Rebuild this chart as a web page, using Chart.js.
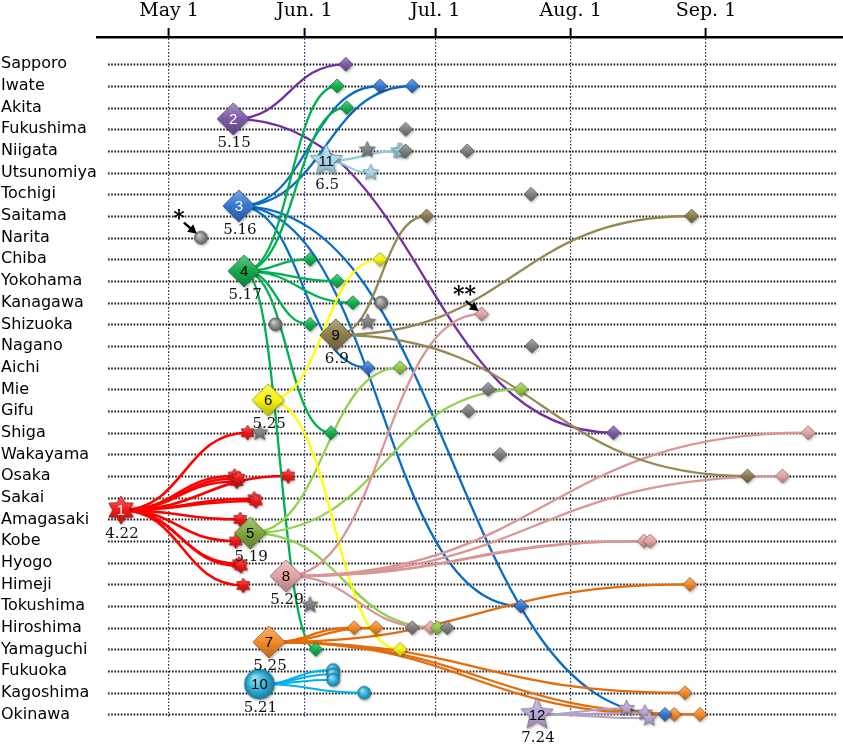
<!DOCTYPE html>
<html>
<head>
<meta charset="utf-8">
<script src="https://cdn.jsdelivr.net/npm/chart.js@4.4.1/dist/chart.umd.min.js"></script>
<style>
  html, body { margin: 0; padding: 0; background: #fff; }
  canvas { display: block; }
</style>
</head>
<body>
<canvas id="chart" width="843" height="746"></canvas>
<script>
const cities = ['Sapporo', 'Iwate', 'Akita', 'Fukushima', 'Niigata', 'Utsunomiya', 'Tochigi',
    'Saitama', 'Narita', 'Chiba', 'Yokohama', 'Kanagawa', 'Shizuoka', 'Nagano', 'Aichi', 'Mie',
    'Gifu', 'Shiga', 'Wakayama', 'Osaka', 'Sakai', 'Amagasaki', 'Kobe', 'Hyogo', 'Himeji',
    'Tokushima', 'Hiroshima', 'Yamaguchi', 'Fukuoka', 'Kagoshima', 'Okinawa'];

// x values are days after May 1
const monthTicks = [0, 31, 61, 92, 123];
const monthLabels = ['May 1', 'Jun. 1', 'Jul. 1', 'Aug. 1', 'Sep. 1'];

// cluster origins (row is fractional: nodes sit between rows)
const nodeIds = ['1', '2', '3', '4', '5', '6', '7', '8', '9', '10', '11', '12'];
const nodeDates = ['4.22', '5.15', '5.16', '5.17', '5.19', '5.25', '5.25', '5.29', '6.9', '5.21', '6.5', '7.24'];
const nodeDays = [-11.0, 14.7, 16.0, 17.2, 18.6, 22.7, 22.9, 26.8, 38.2, 20.7, 36.0, 84.3];
const nodeRows = [20.57, 2.52, 6.54, 9.54, 21.63, 15.49, 26.66, 23.61, 12.49, 28.6, 4.46, 30.0];

// linked cases of each cluster: [day, row]
const cases1 = [[18.0, 17], [15.0, 19.0], [15.5, 19.25], [15.9, 19.1], [27.3, 19], [19.5, 20.05], [19.9, 20.15],
    [16.3, 21], [15.3, 22], [16.0, 23.05], [16.5, 23.15], [17.0, 24.05]];
const cases2 = [[40.5, 0], [101.8, 17]];
const cases3 = [[48.3, 1], [55.7, 1], [45.5, 14], [80.6, 25], [113.6, 30]];
const cases4 = [[38.5, 1], [40.7, 2], [32.3, 9], [38.5, 10], [42.1, 11], [32.3, 12], [37.1, 17], [33.6, 27]];
const cases5 = [[52.9, 14], [80.6, 15], [61.5, 26]];
const cases6 = [[48.3, 9], [52.9, 27]];
const cases7 = [[42.4, 26], [47.4, 26], [119.3, 24], [118.2, 29], [115.7, 30], [121.6, 30]];
const cases8 = [[71.6, 11.52], [59.9, 26], [108.8, 22], [110.2, 22], [140.5, 19], [146.4, 17]];
const cases9 = [[59.0, 7], [119.7, 7], [132.5, 19]];
const cases10 = [[37.6, 27.95], [37.6, 28.15], [37.6, 28.4], [44.7, 29]];
const cases11 = [[52.6, 4], [53.2, 4], [46.2, 5]];
const cases12 = [[104.8, 29.72], [109.0, 29.93], [110.0, 30.18]];

// unlinked cases
const grayDiamonds = [[54.2, 3], [54.2, 4], [68.3, 4], [82.9, 6], [83.1, 13], [73.1, 15], [68.6, 16], [75.8, 18], [55.7, 26], [63.7, 26]];
const grayCircles = [[7.3, 8], [48.6, 11], [24.4, 12]];
const grayStars = [[45.4, 3.95], [45.5, 11.9], [20.8, 17], [32.3, 24.95]];

const allCases = [cases1, cases2, cases3, cases4, cases5, cases6, cases7, cases8, cases9, cases10, cases11, cases12];
const nodeFill = ['#f01818', '#7d5aa6', '#3576cf', '#14a84a', '#80a63c', '#f5f20f', '#f28a26', '#e4a3a3', '#8a7c4c', '#2aaed6', '#a6d8ea', '#b8a6d0'];
const caseFill = ['#f01818', '#7d5aa6', '#3576cf', '#14b04e', '#92c84a', '#f5f20f', '#f28a26', '#e4a3a3', '#8a7c4c', '#2aaed6', '#a6d8ea', '#b8a6d0'];
const lineColor = ['#ff0000', '#7030a0', '#0a6cc4', '#00b050', '#92d050', '#ffff00', '#e46c0a', '#d99694', '#948a54', '#00b0f0', '#93cddd', '#b3a2c7'];
const nodeShape = ['star6', 'diamond', 'diamond', 'diamond', 'diamond', 'diamond', 'diamond', 'diamond', 'diamond', 'circle', 'star5', 'star5'];
const numberColor = ['#fff', '#fff', '#fff', '#000', '#000', '#000', '#000', '#000', '#000', '#000', '#000', '#000'];

function shade(hex, amt) {
    const n = parseInt(hex.slice(1), 16);
    const t = amt < 0 ? 0 : 255, p = Math.abs(amt);
    const mix = v => Math.round((t - v) * p + v);
    return `rgb(${mix(n >> 16)},${mix((n >> 8) & 255)},${mix(n & 255)})`;
}

// small canvas images used as point styles
function marker(shape, color, r) {
    const pad = 4;
    const size = Math.ceil(2 * r + 2 * pad);
    const c = document.createElement('canvas');
    c.width = c.height = size;
    const g = c.getContext('2d');
    const m = size / 2;
    g.beginPath();
    if (shape === 'diamond') {
        g.moveTo(m, m - r); g.lineTo(m + r, m); g.lineTo(m, m + r); g.lineTo(m - r, m); g.closePath();
    } else if (shape === 'circle') {
        g.arc(m, m, r, 0, Math.PI * 2);
    } else {
        const n = shape === 'star6' ? 6 : 5;
        const inner = n === 6 ? r * 0.6 : r * 0.45;
        for (let i = 0; i < 2 * n; i++) {
            const a = -Math.PI / 2 + i * Math.PI / n;
            const rr = i % 2 ? inner : r;
            g.lineTo(m + rr * Math.cos(a), m + rr * Math.sin(a));
        }
        g.closePath();
    }
    let grad;
    if (shape === 'circle') {
        grad = g.createRadialGradient(m - r * 0.35, m - r * 0.4, r * 0.1, m, m, r);
        grad.addColorStop(0, shade(color, 0.55));
        grad.addColorStop(0.6, color);
        grad.addColorStop(1, shade(color, -0.3));
    } else {
        grad = g.createLinearGradient(0, m - r, 0, m + r);
        grad.addColorStop(0, shade(color, 0.35));
        grad.addColorStop(0.5, color);
        grad.addColorStop(1, shade(color, -0.25));
    }
    g.save();
    g.shadowColor = 'rgba(0,0,0,0.35)';
    g.shadowBlur = 3;
    g.shadowOffsetX = 1;
    g.shadowOffsetY = 1.5;
    g.fillStyle = grad;
    g.fill();
    g.restore();
    g.lineWidth = 0.8;
    g.strokeStyle = shade(color, -0.35);
    g.stroke();
    return c;
}

const toPts = arr => arr.map(([x, y]) => ({ x, y }));

const datasets = [];
datasets.push({
    role: 'node',
    data: nodeDays.map((x, i) => ({ x, y: nodeRows[i] })),
    pointStyle: nodeShape.map((s, i) => marker(s, nodeFill[i], s === 'diamond' ? 16 : (s === 'star6' ? 14 : (s === 'circle' ? 15 : 17)))),
    order: 0,
    clip: false,
});
datasets.push({ data: toPts(grayDiamonds), pointStyle: marker('diamond', '#7f7f7f', 7), order: 1, clip: false });
datasets.push({ data: toPts(grayCircles), pointStyle: marker('circle', '#8a8a8a', 6.5), order: 1, clip: false });
datasets.push({ data: toPts(grayStars), pointStyle: marker('star5', '#808080', 8.5), order: 1, clip: false });
allCases.forEach((arr, k) => {
    const s = nodeShape[k];
    const small = s === 'diamond' ? marker('diamond', caseFill[k], 7)
        : s === 'star6' ? marker('star6', caseFill[k], 7.5)
        : s === 'circle' ? marker('circle', caseFill[k], 6.5)
        : marker('star5', caseFill[k], 8.5);
    datasets.push({ role: 'cases', cluster: k, data: toPts(arr), pointStyle: small, order: 2, clip: false });
});

// dotted row lines
const rowLines = {
    id: 'rowLines',
    beforeDatasetsDraw(chart) {
        const { ctx, chartArea, scales: { y } } = chart;
        ctx.save();
        ctx.strokeStyle = '#1a1a1a';
        ctx.lineWidth = 2;
        ctx.setLineDash([1.6, 1.6]);
        cities.forEach((_, i) => {
            const py = Math.round(y.getPixelForValue(i)) + 0.5;
            ctx.beginPath();
            ctx.moveTo(chartArea.left + 11, py);
            ctx.lineTo(chartArea.right - 6, py);
            ctx.stroke();
        });
        ctx.restore();
    }
};

// S-shaped links from each cluster origin to its cases
const links = {
    id: 'links',
    beforeDatasetsDraw(chart) {
        const ctx = chart.ctx;
        const nodes = chart.getDatasetMeta(0).data;
        ctx.save();
        ctx.lineCap = 'round';
        chart.data.datasets.forEach((ds, i) => {
            if (ds.role !== 'cases') return;
            const from = nodes[ds.cluster];
            ctx.strokeStyle = lineColor[ds.cluster];
            ctx.lineWidth = ds.cluster >= 9 ? 2 : (ds.cluster === 0 ? 2.6 : 2.3);
            chart.getDatasetMeta(i).data.forEach(to => {
                const dx = (to.x - from.x) * 0.5;
                ctx.beginPath();
                ctx.moveTo(from.x, from.y);
                ctx.bezierCurveTo(from.x + dx, from.y, to.x - dx, to.y, to.x, to.y);
                ctx.stroke();
            });
        });
        ctx.restore();
    }
};

function arrow(ctx, x0, y0, x1, y1) {
    const a = Math.atan2(y1 - y0, x1 - x0);
    ctx.beginPath();
    ctx.moveTo(x0, y0);
    ctx.lineTo(x1 - 6 * Math.cos(a), y1 - 6 * Math.sin(a));
    ctx.stroke();
    ctx.beginPath();
    ctx.moveTo(x1, y1);
    ctx.lineTo(x1 - 10 * Math.cos(a - 0.5), y1 - 10 * Math.sin(a - 0.5));
    ctx.lineTo(x1 - 10 * Math.cos(a + 0.5), y1 - 10 * Math.sin(a + 0.5));
    ctx.closePath();
    ctx.fill();
}

// node numbers, start dates and the * / ** notes
const labels = {
    id: 'labels',
    afterDatasetsDraw(chart) {
        const ctx = chart.ctx;
        const nodes = chart.getDatasetMeta(0).data;
        ctx.save();
        ctx.textAlign = 'center';
        ctx.textBaseline = 'middle';
        nodes.forEach((el, i) => {
            ctx.fillStyle = numberColor[i];
            ctx.font = '15px "Liberation Sans", sans-serif';
            ctx.fillText(nodeIds[i], el.x, el.y + 1);
            ctx.fillStyle = '#111';
            ctx.font = '15px "DejaVu Serif", serif';
            ctx.fillText(nodeDates[i], el.x + 1, el.y + 24);
        });
        ctx.fillStyle = '#000';
        ctx.strokeStyle = '#000';
        ctx.lineWidth = 2.4;
        const narita = chart.getDatasetMeta(2).data[0];
        arrow(ctx, narita.x - 17, narita.y - 15, narita.x - 4, narita.y - 4);
        const star2 = chart.getDatasetMeta(4 + 7).data[0];
        arrow(ctx, star2.x - 16, star2.y - 13, star2.x - 3, star2.y - 3);
        ctx.font = 'bold 22px "DejaVu Serif", serif';
        ctx.fillText('*', narita.x - 22, narita.y - 18);
        ctx.fillText('**', star2.x - 17, star2.y - 19);
        ctx.restore();
    }
};

new Chart(document.getElementById('chart'), {
    type: 'scatter',
    data: { datasets },
    plugins: [rowLines, links, labels],
    options: {
        responsive: false,
        animation: false,
        events: [],
        layout: { autoPadding: false, padding: { left: 1, right: 0, top: 0, bottom: 29.4 } },
        elements: { point: { radius: 8, hoverRadius: 8 } },
        plugins: { legend: { display: false }, tooltip: { enabled: false } },
        scales: {
            x: {
                type: 'linear',
                position: 'top',
                min: -16.5,
                max: 154.4,
                afterFit: s => { s.height = 37; },
                afterBuildTicks: s => { s.ticks = monthTicks.map(value => ({ value })); },
                ticks: {
                    autoSkip: false,
                    maxRotation: 0,
                    padding: 6,
                    color: '#000',
                    font: { family: '"DejaVu Serif", serif', size: 19 },
                    callback: (v, i) => monthLabels[i],
                },
                grid: {
                    color: c => (c.tick && c.tick.value === 31 ? '#2b3a8e' : '#333'),
                    lineWidth: 1.2,
                    tickLength: 9,
                    tickColor: '#000',
                    tickWidth: 2,
                },
                border: { display: true, color: '#000', width: 2.5, dash: [1.6, 1.8] },
            },
            y: {
                type: 'linear',
                reverse: true,
                min: -1.26,
                max: 30.1,
                afterFit: s => { s.width = 96; },
                afterBuildTicks: s => { s.ticks = cities.map((_, value) => ({ value })); },
                ticks: {
                    autoSkip: false,
                    crossAlign: 'far',
                    color: '#000',
                    font: { family: '"DejaVu Sans", sans-serif', size: 16 },
                    callback: v => cities[v],
                },
                grid: { display: false },
                border: { display: false },
            },
        },
    },
});
</script>
</body>
</html>
